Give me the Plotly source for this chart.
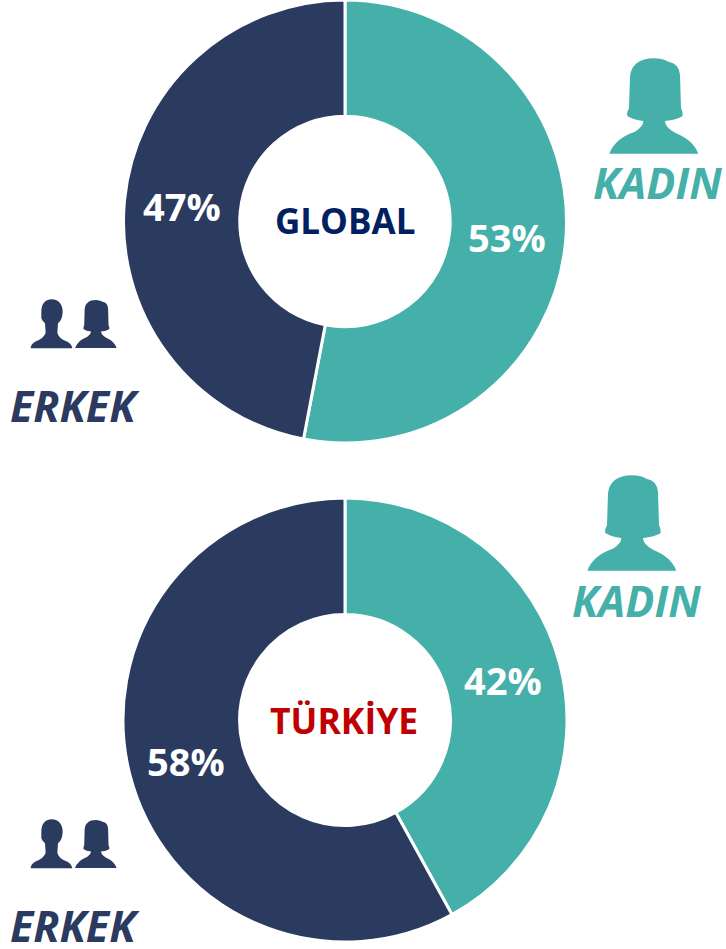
import plotly.graph_objects as go

W, H = 726, 949

categories = ["KADIN", "ERKEK"]
global_values = [53, 47]
turkey_values = [42, 58]
titles = ["GLOBAL", "TÜRKİYE"]

TEAL = "#45AFA9"
NAVY = "#2A3B5F"
FONT = "Open Sans"


def px(x):
    return x / W


def py(y):
    return 1 - y / H


WOMAN = [
    ("M", 222, 55), ("C", 178, 55, 153, 75, 150, 110), ("L", 147, 205),
    ("Q", 139, 220, 142, 228), ("Q", 160, 240, 190, 243), ("Q", 190, 260, 165, 275),
    ("Q", 105, 295, 88, 341), ("L", 355, 341), ("Q", 340, 300, 285, 278),
    ("Q", 255, 262, 255, 243), ("Q", 290, 240, 308, 228), ("Q", 309, 215, 303, 205),
    ("L", 300, 105), ("Q", 297, 70, 265, 65), ("Q", 245, 55, 222, 55),
]
MAN = [
    ("M", 155, 58), ("Q", 124, 60, 124, 95), ("L", 124, 115), ("Q", 128, 125, 135, 130),
    ("L", 137, 158), ("Q", 132, 175, 105, 185), ("Q", 92, 193, 92, 205),
    ("L", 217, 205), ("Q", 215, 192, 202, 185), ("Q", 175, 175, 172, 158),
    ("L", 174, 130), ("Q", 187, 120, 188, 95), ("Q", 187, 60, 155, 58),
]


def icon(cmds, ox, oy, sx, sy, color):
    parts = []
    for c in cmds:
        pts = c[1:]
        coords = []
        for i in range(0, len(pts), 2):
            coords.append(f"{px(ox + pts[i] * sx):.5f},{py(oy + pts[i + 1] * sy):.5f}")
        parts.append(c[0] + " " + " ".join(coords))
    path = " ".join(parts) + " Z"
    return dict(type="path", xref="paper", yref="paper", path=path,
                fillcolor=color, line=dict(width=0), layer="above")


fig = go.Figure()
for vals, top, bottom in [(global_values, -1, 443), (turkey_values, 498, 942)]:
    fig.add_trace(go.Pie(
        labels=categories, values=vals, hole=0.475, sort=False,
        direction="clockwise", rotation=0, textinfo="none", showlegend=False,
        marker=dict(colors=[TEAL, NAVY], line=dict(color="white", width=3)),
        domain=dict(x=[px(123), px(567)], y=[max(py(bottom), 0), min(py(top), 1)]),
    ))


def note(text, x, y, size, color, italic=False):
    if italic:
        text = f"<i>{text}</i>"
    return dict(text=f"<b>{text}</b>", x=px(x), y=py(y), xref="paper", yref="paper",
                showarrow=False, xanchor="center", yanchor="middle",
                font=dict(family=FONT, size=size, color=color))


annotations = [
    note(titles[0], 345, 220, 35, "#002060"),
    note(titles[1], 344, 720, 35.5, "#C00000"),
    note(f"{global_values[0]}%", 507, 237, 38, "white"),
    note(f"{global_values[1]}%", 182, 206, 38, "white"),
    note(f"{turkey_values[0]}%", 503, 680, 38, "white"),
    note(f"{turkey_values[1]}%", 186, 761, 38, "white"),
    note(categories[0], 657, 183, 43, TEAL, True),
    note(categories[0], 636, 600, 43, TEAL, True),
    note(categories[1], 75, 405, 43, NAVY, True),
    note(categories[1], 75, 925, 43, NAVY, True),
]

SX = 0.468 / 3
SY = 0.168
shapes = [
    icon(WOMAN, 580, 40, 1 / 3, 1 / 3, TEAL),
    icon(WOMAN, 558, 457, 1 / 3, 1 / 3, TEAL),
    icon(MAN, 0, 280, 1 / 3, 1 / 3, NAVY),
    icon(MAN, 0, 800, 1 / 3, 1 / 3, NAVY),
    icon(WOMAN, 75 - 88 * SX, 300 - 55 * SY, SX, SY, NAVY),
    icon(WOMAN, 75 - 88 * SX, 820 - 55 * SY, SX, SY, NAVY),
]

fig.update_layout(
    width=W, height=H, margin=dict(l=0, r=0, t=0, b=0),
    paper_bgcolor="white", plot_bgcolor="white",
    annotations=annotations, shapes=shapes,
)
fig.write_html(
    "out.html",
    config=dict(displayModeBar=False),
    post_script="document.body.style.margin='0';document.documentElement.style.overflow='hidden';",
)
